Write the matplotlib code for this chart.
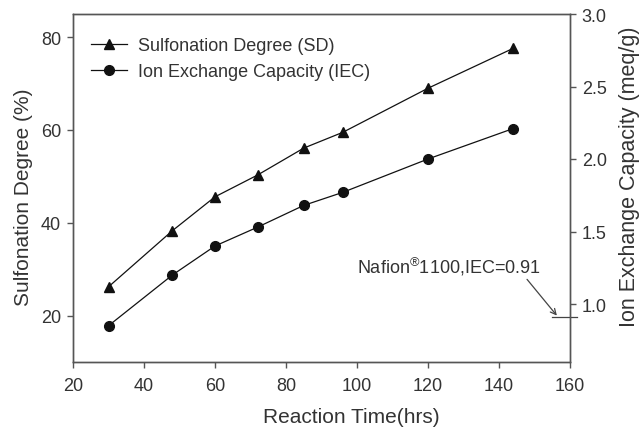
import matplotlib
matplotlib.use('Agg')
import matplotlib.pyplot as plt

plt.rcParams['font.family'] = ['Liberation Sans', 'DejaVu Sans']
plt.rcParams['mathtext.fontset'] = 'custom'
plt.rcParams['mathtext.rm'] = 'Liberation Sans'

time_hrs = [30, 48, 60, 72, 85, 96, 120, 144]
sd = [26.2, 38.3, 45.6, 50.3, 56.1, 59.5, 69.0, 77.6]
iec = [0.85, 1.20, 1.40, 1.53, 1.68, 1.77, 2.00, 2.21]
nafion_iec = 0.91

txt = '#333333'
spine_c = '#555555'

fig = plt.figure(figsize=(6.43, 4.35), dpi=100)
ax = fig.add_axes([73 / 643, 1 - 363 / 435, 497 / 643, 348 / 435])
ax2 = ax.twinx()

l1, = ax.plot(time_hrs, sd, color='#111111', lw=0.9, marker='^', ms=6.5,
              label='Sulfonation Degree (SD)')
l2, = ax2.plot(time_hrs, iec, color='#111111', lw=0.9, marker='o', ms=7,
               label='Ion Exchange Capacity (IEC)')

ax.set_xlim(20, 160)
ax.set_ylim(10, 85)
ax2.set_ylim(0.6, 3.0)
ax.set_xticks(range(20, 161, 20))
ax.set_yticks([20, 40, 60, 80])
ax2.set_yticks([1.0, 1.5, 2.0, 2.5, 3.0])

for a in (ax, ax2):
    for s in a.spines.values():
        s.set_color(spine_c)
        s.set_linewidth(1.0)
    a.tick_params(colors=spine_c, labelcolor=txt, labelsize=13, direction='out',
                  length=4, width=1.0, pad=4.5)
ax.tick_params(axis='x', pad=7)

ax.set_xlabel('Reaction Time(hrs)', fontsize=15, color=txt, labelpad=9)
ax.set_ylabel('Sulfonation Degree (%)', fontsize=15, color=txt, labelpad=6)
ax2.set_ylabel('Ion Exchange Capacity (meq/g)', fontsize=15.5, color=txt, labelpad=9)
# labels in the original sit a little off-centre
ax.xaxis.label.set_x(0.56)
ax.yaxis.label.set_y(0.477)
ax2.yaxis.label.set_y(0.534)

# Nafion reference mark
ax2.plot([155, 162], [nafion_iec, nafion_iec], color='#444444', lw=0.9, clip_on=False)
ax2.text(126, 1.26, 'Nafion$^{\\mathrm{®}}$1100,IEC=0.91', ha='center', va='center',
         fontsize=13, color=txt)
ax2.annotate('', xy=(156.3, nafion_iec + 0.01), xytext=(147.9, 1.17),
             arrowprops=dict(arrowstyle='->', color='#444444', lw=0.9,
                             shrinkA=0, shrinkB=0))

ax.legend(handles=[l1, l2], loc='upper left', frameon=False, fontsize=13,
          handlelength=2.0, handletextpad=0.6, labelcolor=txt, borderaxespad=0.6,
          bbox_to_anchor=(0.0, 0.985))

fig.savefig('out.png', dpi=100)
